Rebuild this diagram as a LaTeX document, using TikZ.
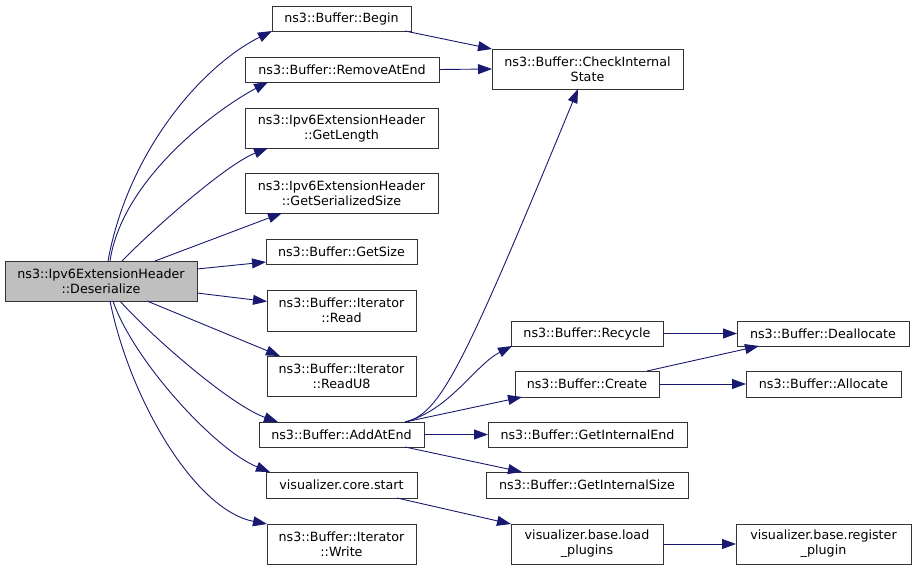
\documentclass[tikz,border=0pt]{standalone}
\usepackage{fontspec}
\setmainfont{DejaVu Sans}
\usetikzlibrary{arrows.meta,calc}
\definecolor{edgecol}{HTML}{191970}
\definecolor{boxborder}{HTML}{333333}
\definecolor{mainfill}{HTML}{BFBFBF}
\tikzset{
  fn/.style={draw=boxborder, line width=0.9pt, fill=white, inner sep=0pt, outer sep=0pt,
    align=center, font=\fontsize{12.7}{15}\selectfont, text=black},
  mainfn/.style={fn, fill=mainfill},
  call/.style={draw=edgecol, line width=0.9pt, -{Triangle[length=14pt,width=10pt]}, fill=none}
}
\begin{document}
\begin{tikzpicture}[x=1pt,y=-1pt]
\useasboundingbox (0,0) rectangle (916,570);
% nodes
\node[mainfn, minimum width=192, minimum height=40] (main) at (101,281) {ns3::Ipv6ExtensionHeader\\::Deserialize};
\node[fn, minimum width=139, minimum height=25] (begin) at (341.5,18.5) {ns3::Buffer::Begin};
\node[fn, minimum width=194, minimum height=25] (remove) at (342,69.5) {ns3::Buffer::RemoveAtEnd};
\node[fn, minimum width=193, minimum height=40] (getlen) at (341.5,128) {ns3::Ipv6ExtensionHeader\\::GetLength};
\node[fn, minimum width=193, minimum height=40] (getser) at (341.5,193) {ns3::Ipv6ExtensionHeader\\::GetSerializedSize};
\node[fn, minimum width=151, minimum height=25] (getsize) at (341.5,251.5) {ns3::Buffer::GetSize};
\node[fn, minimum width=149, minimum height=41] (read) at (341.5,310.5) {ns3::Buffer::Iterator\\::Read};
\node[fn, minimum width=149, minimum height=40] (readu8) at (341.5,376) {ns3::Buffer::Iterator\\::ReadU8};
\node[fn, minimum width=165, minimum height=25] (addend) at (341.5,434.5) {ns3::Buffer::AddAtEnd};
\node[fn, minimum width=151, minimum height=26] (corestart) at (341.5,485) {visualizer.core.start};
\node[fn, minimum width=149, minimum height=40] (write) at (341.5,544) {ns3::Buffer::Iterator\\::Write};
\node[fn, minimum width=191, minimum height=40] (check) at (587.5,69) {ns3::Buffer::CheckInternal\\State};
\node[fn, minimum width=152, minimum height=25] (recycle) at (587,333.5) {ns3::Buffer::Recycle};
\node[fn, minimum width=144, minimum height=26] (create) at (587,384) {ns3::Buffer::Create};
\node[fn, minimum width=199, minimum height=25] (intend) at (587.5,434.5) {ns3::Buffer::GetInternalEnd};
\node[fn, minimum width=202, minimum height=26] (intsize) at (587,485) {ns3::Buffer::GetInternalSize};
\node[fn, minimum width=152, minimum height=40] (load) at (587,544) {visualizer.base.load\\\_plugins};
\node[fn, minimum width=172, minimum height=25] (dealloc) at (823,333.5) {ns3::Buffer::Deallocate};
\node[fn, minimum width=155, minimum height=26] (alloc) at (823.5,384) {ns3::Buffer::Allocate};
\node[fn, minimum width=175, minimum height=40] (register) at (823.5,544) {visualizer.base.register\\\_plugin};
% edges from main
\draw[call] ($(main.north)+(7,0)$) .. controls (128,151) and (202,66) .. (begin.south west);
\draw[call] ($(main.north)+(9,0)$) .. controls (122,180) and (215,110) .. ($(remove.south west)+(23,0)$);
\draw[call] ($(main.north)+(21,0)$) .. controls (150,232) and (225,165) .. ($(getlen.south west)+(23,0)$);
\draw[call] ($(main.north)+(54,0)$) -- ($(getser.south west)+(37,0)$);
\draw[call] ($(main.east)+(0,-12)$) -- ($(getsize.west)+(0,10.5)$);
\draw[call] ($(main.east)+(0,12)$) -- ($(read.west)+(0,-9)$);
\draw[call] ($(main.south)+(46,0)$) -- ($(readu8.north west)+(13,0)$);
\draw[call] ($(main.south)+(19,0)$) .. controls (150,335) and (230,405) .. ($(addend.north west)+(19,0)$);
\draw[call] ($(main.south)+(12,0)$) .. controls (133,360) and (215,450) .. ($(corestart.north west)+(4,0)$);
\draw[call] ($(main.south)+(9,0)$) .. controls (130,400) and (195,510) .. (write.north west);
% second level
\draw[call] ($(begin.south east)+(-6,0)$) -- (check.north west);
\draw[call] (remove.east) -- (check.west);
\draw[call] ($(addend.north east)+(-19,0)$) .. controls (440,414) and (462,370) .. ($(check.south)+(-9.5,0)$);
\draw[call] ($(addend.north east)+(-19,0)$) .. controls (450,410) and (475,365) .. ($(recycle.south west)+(1,0)$);
\draw[call] ($(addend.north east)+(-19,0)$) -- ($(create.south west)+(7,0)$);
\draw[call] (addend.east) -- (intend.west);
\draw[call] ($(addend.south east)+(-19,0)$) -- ($(intsize.north west)+(36,0)$);
\draw[call] ($(corestart.south east)+(-20,0)$) -- (load.north west);
% third level
\draw[call] (recycle.east) -- (dealloc.west);
\draw[call] ($(create.north east)+(-12,0)$) -- ($(dealloc.south west)+(22,0)$);
\draw[call] (create.east) -- (alloc.west);
\draw[call] (load.east) -- (register.west);
\end{tikzpicture}
\end{document}
